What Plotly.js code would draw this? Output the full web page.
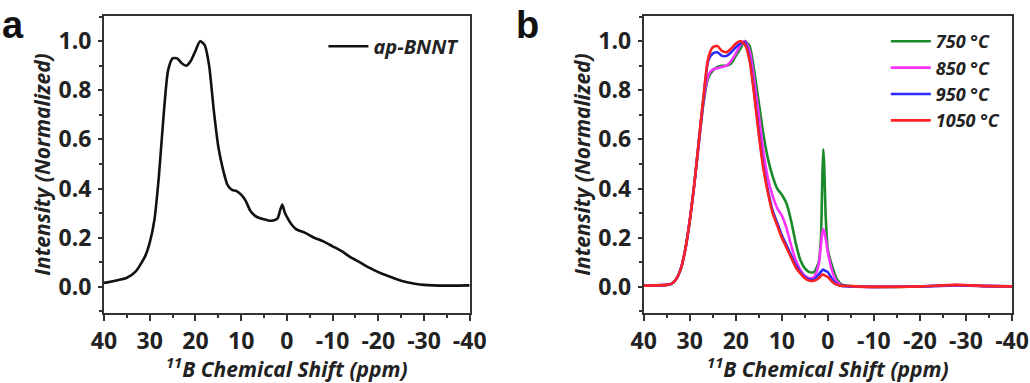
<!DOCTYPE html>
<html>
<head>
<meta charset="utf-8">
<script src="https://cdn.plot.ly/plotly-3.0.1.min.js"></script>
<style>html,body{margin:0;padding:0;background:#fff;}#chart{width:1030px;height:383px;}</style>
</head>
<body>
<div id="chart"></div>
<script>
// Panel a: ap-BNNT
const shiftA = [40,35,33,31,30,29,28,27,26,25,24,23,22,21,20,19,18,17,16,15,14,13,12,11,10,9,8,7,6,5,4,3,2,1.5,1,0.5,0,-1,-2,-4,-6,-8,-10,-12,-14,-16,-18,-20,-22,-25,-28,-30,-35,-40];
const intensityA = [0.016,0.037,0.064,0.125,0.18,0.27,0.45,0.69,0.88,0.93,0.93,0.91,0.90,0.92,0.96,1.0,0.985,0.90,0.72,0.57,0.48,0.415,0.395,0.39,0.375,0.35,0.31,0.29,0.28,0.275,0.27,0.27,0.28,0.31,0.335,0.305,0.285,0.255,0.235,0.22,0.20,0.185,0.165,0.145,0.12,0.10,0.078,0.06,0.045,0.025,0.013,0.008,0.005,0.006];

// Panel b: annealed samples
const shiftB = [40,35,34,33,32,31,30,29,28,27,26,25,24,23,22,21,20,19,18,17,16,15,14,13,12,11,10,9,8,7,6,5,4,3,2,1.5,1.2,1,0.8,0.5,0,-1,-2,-3,-5,-10,-20,-28,-35,-40];
const i750  = [0.005,0.008,0.012,0.03,0.07,0.15,0.27,0.42,0.59,0.75,0.85,0.88,0.895,0.90,0.90,0.91,0.94,0.97,1.0,0.98,0.88,0.75,0.62,0.52,0.45,0.40,0.375,0.34,0.27,0.18,0.11,0.075,0.06,0.06,0.10,0.20,0.45,0.56,0.50,0.30,0.15,0.08,0.03,0.01,0.003,0.0,0.002,0.006,0.003,0.002];
const i850  = [0.005,0.008,0.012,0.03,0.07,0.15,0.27,0.42,0.59,0.76,0.86,0.885,0.89,0.895,0.90,0.92,0.95,0.985,1.0,0.96,0.84,0.70,0.55,0.44,0.37,0.32,0.29,0.24,0.17,0.11,0.07,0.045,0.035,0.04,0.09,0.17,0.22,0.235,0.225,0.20,0.14,0.06,0.02,0.006,0.002,0.0,0.002,0.006,0.003,0.002];
const i950  = [0.005,0.008,0.012,0.03,0.07,0.15,0.27,0.42,0.60,0.77,0.92,0.95,0.955,0.94,0.94,0.955,0.975,0.99,0.995,0.93,0.79,0.63,0.49,0.39,0.31,0.26,0.21,0.17,0.13,0.09,0.06,0.04,0.03,0.03,0.05,0.062,0.068,0.07,0.068,0.065,0.06,0.03,0.01,0.004,0.002,0.0,0.002,0.007,0.003,0.002];
const i1050 = [0.005,0.008,0.012,0.03,0.07,0.15,0.27,0.42,0.60,0.78,0.93,0.975,0.98,0.96,0.955,0.97,0.99,1.0,0.985,0.92,0.78,0.62,0.48,0.38,0.30,0.25,0.20,0.16,0.12,0.08,0.055,0.035,0.025,0.025,0.035,0.045,0.05,0.05,0.048,0.045,0.04,0.02,0.008,0.004,0.003,0.0,0.002,0.008,0.003,0.002];

const seriesNames = ['750 °C','850 °C','950 °C','1050 °C'];
const seriesColors = ['#1a8a2a','#ff33ff','#2a2aff','#ff2222'];
const seriesData = [i750,i850,i950,i1050];

const xTickVals = [40,30,20,10,0,-10,-20,-30,-40];
const xTickText = ['40','30','20','10','0','-10','-20','-30','-40'];
const yTickVals = [0,0.2,0.4,0.6,0.8,1.0];
const yTickText = ['0.0','0.2','0.4','0.6','0.8','1.0'];

const tickFont = {family:'Open Sans', size:23, color:'#222', weight:'bold'};
const titleFont = {family:'Open Sans', size:21, color:'#222', weight:'bold', style:'italic'};
const legFontA = {family:'Open Sans', size:20, color:'#222', weight:'bold', style:'italic'};
const legFontB = {family:'Open Sans', size:18, color:'#222', weight:'bold', style:'italic'};

const traces = [{
  x: shiftA, y: intensityA, type:'scatter', mode:'lines', name:'ap-BNNT',
  line:{color:'#111', width:2.6, shape:'spline', smoothing:0.6},
  xaxis:'x', yaxis:'y', legend:'legend'
}];
seriesData.forEach((d,i)=>traces.push({
  x: shiftB, y: d, type:'scatter', mode:'lines', name: seriesNames[i],
  line:{color:seriesColors[i], width:2.6, shape:'spline', smoothing:0.6},
  xaxis:'x2', yaxis:'y2', legend:'legend2'
}));

function xax(domain, anchor){
  return {domain:domain, anchor:anchor, range:[40,-40], showgrid:false, zeroline:false,
    showline:true, linecolor:'#333', linewidth:2, mirror:true,
    ticks:'outside', ticklen:6, tickwidth:2, tickcolor:'#333',
    tickmode:'array', tickvals:xTickVals, ticktext:xTickText,
    minor:{tickmode:'linear', tick0:5, dtick:10, ticklen:3, tickwidth:2, tickcolor:'#333', ticks:'outside'},
    tickfont:tickFont, ticklabelstandoff:0,
    title:{text:'<sup>11</sup>B Chemical Shift (ppm)', font:titleFont, standoff:0}};
}
function yax(anchor){
  return {domain:[0.183,0.958], anchor:anchor, range:[-0.106,1.102], showgrid:false, zeroline:false,
    showline:true, linecolor:'#333', linewidth:2, mirror:true,
    ticks:'outside', ticklen:4, tickwidth:2, tickcolor:'#333',
    tickmode:'array', tickvals:yTickVals, ticktext:yTickText,
    minor:{tickmode:'linear', tick0:0.1, dtick:0.2, ticklen:3, tickwidth:2, tickcolor:'#333', ticks:'outside'},
    tickfont:tickFont, ticklabelstandoff:2,
    title:{text:'Intensity (Normalized)', font:titleFont, standoff:2}};
}

const layout = {
  width:1030, height:383, margin:{l:0,r:0,t:0,b:0},
  paper_bgcolor:'#fff', plot_bgcolor:'#fff', showlegend:true,
  xaxis: xax([0.101,0.456],'y'), yaxis: yax('x'),
  xaxis2: xax([0.625,0.9825],'y2'), yaxis2: yax('x2'),
  legend:{x:0.314, y:0.93, xanchor:'left', yanchor:'top', bgcolor:'rgba(0,0,0,0)', font:legFontA, itemwidth:40},
  legend2:{x:0.86, y:0.94, xanchor:'left', yanchor:'top', bgcolor:'rgba(0,0,0,0)', font:legFontB, itemwidth:40, tracegroupgap:0},
  annotations:[
    {text:'<b>a</b>', x:0.0, y:0.995, xref:'paper', yref:'paper', xanchor:'left', yanchor:'top', showarrow:false, font:{family:'Liberation Sans', size:38, color:'#111'}},
    {text:'<b>b</b>', x:0.499, y:0.995, xref:'paper', yref:'paper', xanchor:'left', yanchor:'top', showarrow:false, font:{family:'Liberation Sans', size:38, color:'#111'}}
  ]
};

Plotly.newPlot('chart', traces, layout, {staticPlot:true, displayModeBar:false});
</script>
</body>
</html>
